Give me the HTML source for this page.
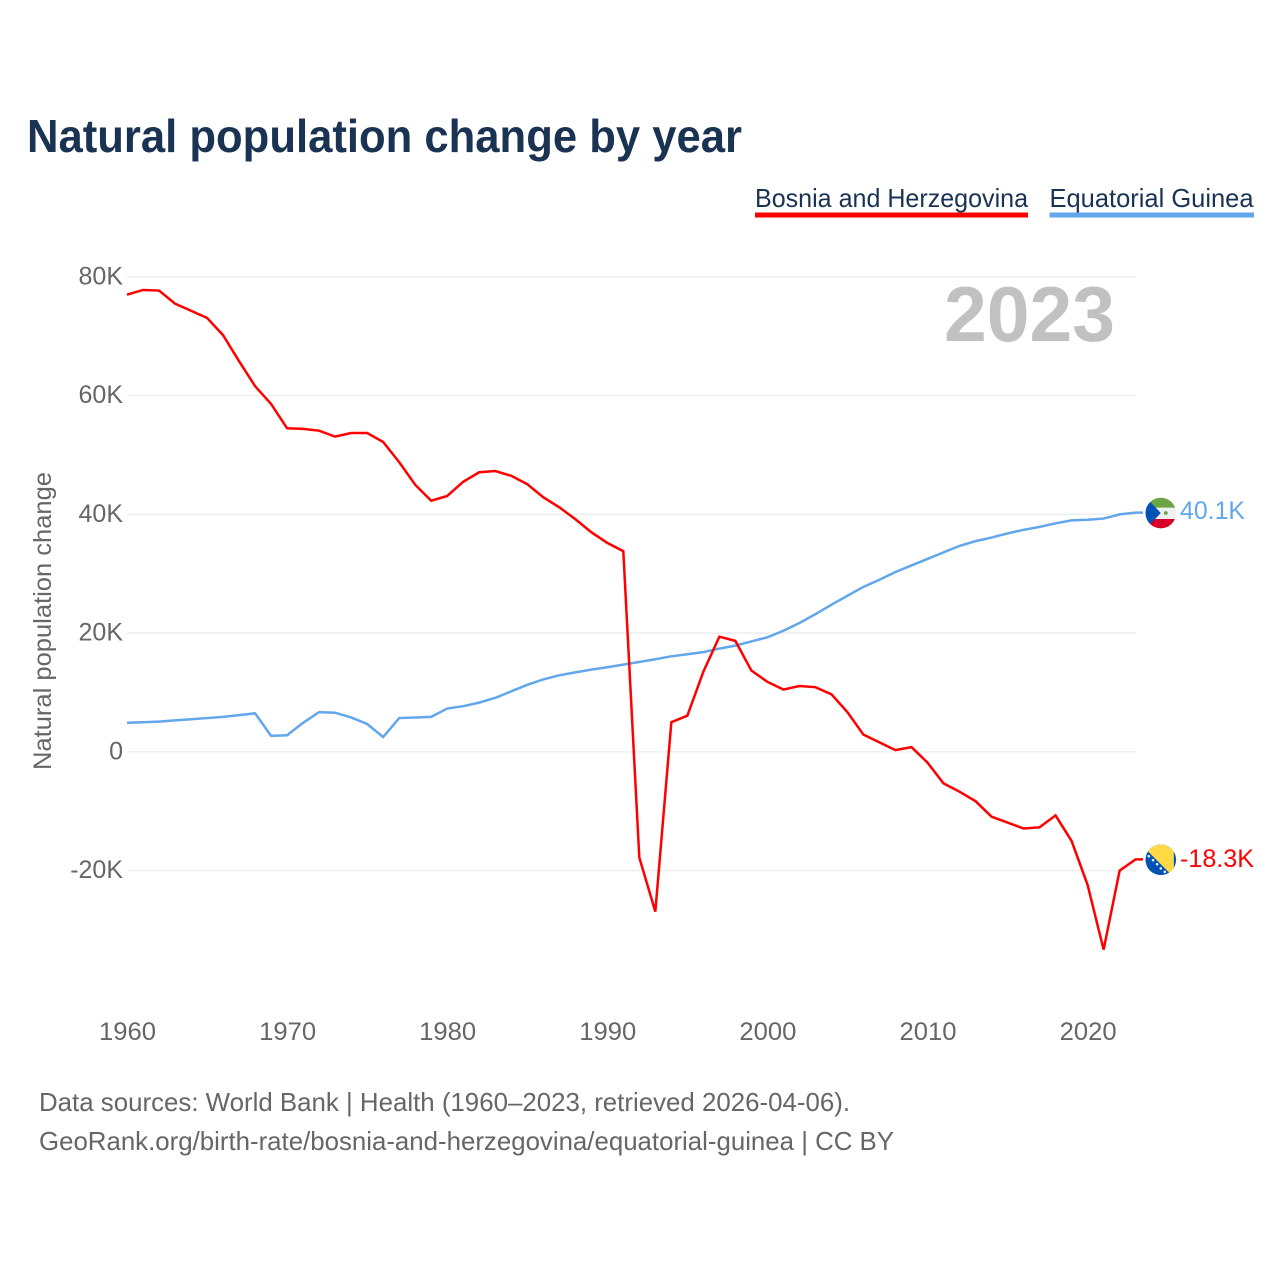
<!DOCTYPE html>
<html lang="en">
<head>
<meta charset="utf-8">
<title>Natural population change by year</title>
<style>
html,body{margin:0;padding:0;background:#fff;}
svg{display:block;font-family:"Liberation Sans",sans-serif;}
</style>
</head>
<body>
<svg id="chart" width="1280" height="1280" viewBox="0 0 1280 1280" xmlns="http://www.w3.org/2000/svg">
<defs>
<clipPath id="flag-clip"><circle cx="0" cy="0" r="15.3"></circle></clipPath>
</defs>
<rect x="0" y="0" width="1280" height="1280" fill="#fff"></rect>
<text x="27" y="152" font-size="46" font-weight="700" fill="#1a3353" textLength="715" lengthAdjust="spacingAndGlyphs">Natural population change by year</text>

<g>
<g>
<text x="755" y="207" font-size="26" fill="#1a3353" textLength="273" lengthAdjust="spacingAndGlyphs">Bosnia and Herzegovina</text>
<rect x="755" y="212.5" width="273" height="5" fill="#ff0000"></rect>
</g>
<g>
<text x="1049.5" y="207" font-size="26" fill="#1a3353" textLength="204" lengthAdjust="spacingAndGlyphs">Equatorial Guinea</text>
<rect x="1049.5" y="212.5" width="204.5" height="5" fill="#62a6ec"></rect>
</g>
</g>

<g id="grid"></g>
<text x="1115" y="341" font-size="78" font-weight="700" fill="#c1c1c1" text-anchor="end" textLength="171" lengthAdjust="spacingAndGlyphs">2023</text>
<g id="yticks"></g>
<g id="xticks"></g>
<text transform="translate(51 621) rotate(-90)" font-size="25" fill="#666" text-anchor="middle" textLength="298" lengthAdjust="spacingAndGlyphs">Natural population change</text>

<g id="series"></g>

<g id="flag-eq">
<g clip-path="url(#flag-clip)">
<rect x="-16" y="-16" width="32" height="32" fill="#f0f0f0"></rect>
<rect x="-16" y="-16" width="32" height="10.6" fill="#6da544"></rect>
<rect x="-16" y="6" width="32" height="10" fill="#d80027"></rect>
<path d="M0 0 L-11 -11.5 L-17 -11.5 L-17 11.5 L-11 11.5 Z" fill="#0052b4"></path>
<circle cx="5" cy="0" r="1.9" fill="#6da544"></circle>
</g>
</g>
<g id="flag-ba">
<g clip-path="url(#flag-clip)">
<rect x="-16" y="-16" width="32" height="32" fill="#0052b4"></rect>
<path d="M-13.2 -8.8 L-6 -18 L13 -18 L13 15 L9.5 14 Z" fill="#ffda44"></path>
<g fill="#f0f0f0">
<circle cx="-12" cy="-3.6" r="1.3"></circle>
<circle cx="-7.7" cy="0.4" r="1.3"></circle>
<circle cx="-3.7" cy="4.4" r="1.3"></circle>
<circle cx="0" cy="8.6" r="1.3"></circle>
<circle cx="4" cy="12" r="1.3"></circle>
</g>
</g>
</g>
<text id="label-eq" x="1180" y="519" font-size="25" fill="#62a6ec" textLength="65" lengthAdjust="spacingAndGlyphs"></text>
<text id="label-ba" x="1180" y="867" font-size="25" fill="#ff0000" textLength="74" lengthAdjust="spacingAndGlyphs"></text>

<g>
<text x="39" y="1111" font-size="26" fill="#666" textLength="811" lengthAdjust="spacingAndGlyphs">Data sources: World Bank | Health (1960–2023, retrieved 2026-04-06).</text>
<text x="39" y="1150" font-size="26" fill="#666" textLength="855" lengthAdjust="spacingAndGlyphs">GeoRank.org/birth-rate/bosnia-and-herzegovina/equatorial-guinea | CC BY</text>
</g>
</svg>
<script>
const firstYear = 1960;
const bosniaValues = [77.0,77.8,77.7,75.5,74.3,73.1,70.2,65.8,61.6,58.6,54.5,54.4,54.1,53.1,53.7,53.7,52.2,48.8,45.0,42.3,43.1,45.5,47.1,47.3,46.5,45.1,42.9,41.2,39.2,37.0,35.2,33.8,-17.8,-26.9,5.0,6.1,13.5,19.4,18.7,13.7,11.8,10.5,11.1,10.9,9.7,6.7,2.9,1.6,0.3,0.8,-1.8,-5.3,-6.7,-8.3,-10.9,-11.9,-12.9,-12.7,-10.7,-15.0,-22.4,-33.3,-20.0,-18.1];
const guineaValues = [4.9,5.0,5.1,5.3,5.5,5.7,5.9,6.2,6.5,2.7,2.8,4.9,6.7,6.6,5.8,4.7,2.5,5.7,5.8,5.9,7.3,7.7,8.3,9.1,10.2,11.3,12.2,12.9,13.4,13.85,14.25,14.7,15.15,15.6,16.1,16.45,16.8,17.4,17.9,18.6,19.3,20.4,21.7,23.2,24.8,26.3,27.8,29.0,30.3,31.4,32.5,33.6,34.7,35.5,36.1,36.8,37.4,37.9,38.5,39.0,39.1,39.3,40.0,40.3];
const yTickValues = [-20,0,20,40,60,80];
const yTickLabels = ["-20K","0","20K","40K","60K","80K"];
const xTickYears = [1960,1970,1980,1990,2000,2010,2020];
const bosniaEndLabel = "-18.3K";
const guineaEndLabel = "40.1K";

const NS = "http://www.w3.org/2000/svg";
function xScale(year){ return 127 + (year - 1960) * 16.01; }
function yScale(v){ return 751.9 - v * 5.9375; }
function make(tag, attrs, parent){
  const el = document.createElementNS(NS, tag);
  for (const k in attrs) el.setAttribute(k, attrs[k]);
  parent.appendChild(el);
  return el;
}
const gridG = document.getElementById('grid');
const yG = document.getElementById('yticks');
const xG = document.getElementById('xticks');
const seriesG = document.getElementById('series');

yTickValues.forEach(function(v, i){
  const line = make('line', {x1:127, x2:1136, y1:yScale(v), y2:yScale(v), stroke:'#eeeeee', 'stroke-width':1.5}, gridG);
  
  
  const t = make('text', {x:123, y:yScale(v)+7.5, 'font-size':25, fill:'#666', 'text-anchor':'end'}, yG);
  
  
  t.textContent = yTickLabels[i];
});
xTickYears.forEach(function(y){
  const t = make('text', {x:xScale(y)+0.5, y:1040, 'font-size':25, fill:'#666', 'text-anchor':'middle', textLength:57, lengthAdjust:'spacingAndGlyphs'}, xG);
  
  
  t.textContent = String(y);
});
function drawLine(values, color){
  const pts = values.map(function(v, i){ return xScale(firstYear + i).toFixed(2) + ',' + yScale(v).toFixed(2); });
  pts.push('1143,' + yScale(values[values.length - 1]).toFixed(2));
  return make('polyline', {points:pts.join(' '), fill:'none', stroke:color, 'stroke-width':2.5, 'stroke-linejoin':'miter'}, seriesG);
}
const guineaLine = drawLine(guineaValues, '#62a6ec');


const bosniaLine = drawLine(bosniaValues, '#ff0000');



const eqY = yScale(guineaValues[guineaValues.length - 1]);
const baY = yScale(bosniaValues[bosniaValues.length - 1]);
document.getElementById('flag-eq').setAttribute('transform', 'translate(1160.8 ' + (eqY + 0.4) + ')');
document.getElementById('flag-ba').setAttribute('transform', 'translate(1160.8 ' + (baY + 0.4) + ')');
const labelEq = document.getElementById('label-eq');
labelEq.setAttribute('y', eqY + 6.3);
labelEq.textContent = guineaEndLabel;
const labelBa = document.getElementById('label-ba');
labelBa.setAttribute('y', baY + 7.7);
labelBa.textContent = bosniaEndLabel;
</script>
</body>
</html>
